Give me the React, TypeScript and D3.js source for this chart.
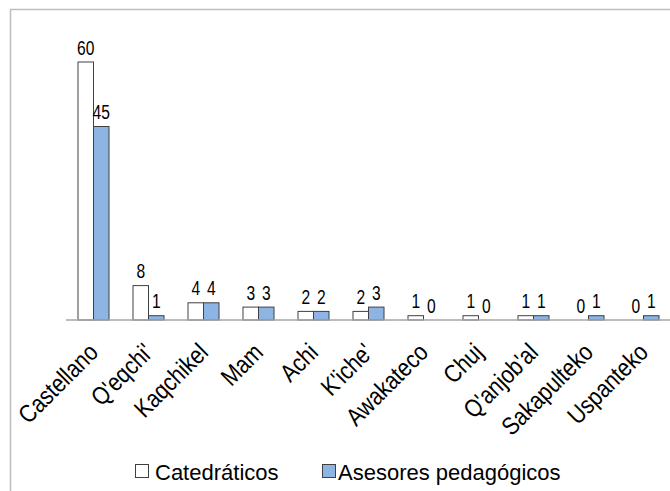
import React from "react";
import * as d3 from "d3";

const categories = ["Castellano", "Q'eqchi'", "Kaqchikel", "Mam", "Achi", "K'iche'", "Awakateco", "Chuj", "Q'anjob'al", "Sakapulteko", "Uspanteko"];
const catedraticos = [60, 8, 4, 3, 2, 2, 1, 1, 1, 0, 0];
const asesores = [45, 1, 4, 3, 2, 3, 0, 0, 1, 1, 1];
const seriesNames = ["Catedráticos", "Asesores pedagógicos"];
const seriesColors = ["#ffffff", "#8db4e3"];

const W = 670;
const H = 491;
const baseY = 320;

export default function App() {
  const x = d3.scaleBand<string>().domain(categories).range([66, 671]).paddingInner(0.436).paddingOuter(0.218);
  const sub = d3.scaleBand<number>().domain([0, 1]).range([0, x.bandwidth()]);
  const y = d3.scaleLinear().domain([0, 60]).range([baseY, 62]);
  const series = [catedraticos, asesores];
  const font = "'Liberation Sans', Arial, sans-serif";

  return (
    <svg width={W} height={H} style={{ position: "absolute", left: 0, top: 0, background: "#fff" }}>
      <rect x={10.5} y={9.5} width={700} height={520} fill="none" stroke="#bdbdbd" strokeWidth={1.5} />
      {categories.map((c, i) => (
        <g key={c}>
          {series.map((s, k) => {
            const v = s[i];
            const bx = (x(c) as number) + (sub(k) as number);
            const lx = bx + sub.bandwidth() / 2;
            const ly = y(v) - 7.5;
            return (
              <g key={k}>
                {v > 0 && (
                  <rect x={bx} y={y(v)} width={sub.bandwidth()} height={baseY - y(v)} fill={seriesColors[k]} stroke="#404040" strokeWidth={1} />
                )}
                <text transform={`translate(${lx},${ly}) scale(0.8,1)`} textAnchor="middle" fontFamily={font} fontSize={19.5} fill="#000">
                  {v}
                </text>
              </g>
            );
          })}
        </g>
      ))}
      <line x1={66} x2={670} y1={baseY} y2={baseY} stroke="#a6a6a6" strokeWidth={1.5} />
      {categories.map((c) => {
        const cx = (x(c) as number) + x.bandwidth() / 2 + 6;
        const cy = 354;
        return (
          <text key={c} transform={`translate(${cx},${cy}) rotate(-45) scale(0.85,1)`} textAnchor="end" fontFamily={font} fontSize={25} fill="#000">
            {c}
          </text>
        );
      })}
      <g>
        <rect x={135.5} y={464.5} width={13} height={13} fill={seriesColors[0]} stroke="#404040" strokeWidth={1} />
        <text x={155} y={480} fontFamily={font} fontSize={22} fill="#000">{seriesNames[0]}</text>
        <rect x={322.5} y={464.5} width={13} height={13} fill={seriesColors[1]} stroke="#404040" strokeWidth={1} />
        <text x={338} y={480} fontFamily={font} fontSize={22} fill="#000">{seriesNames[1]}</text>
      </g>
    </svg>
  );
}
